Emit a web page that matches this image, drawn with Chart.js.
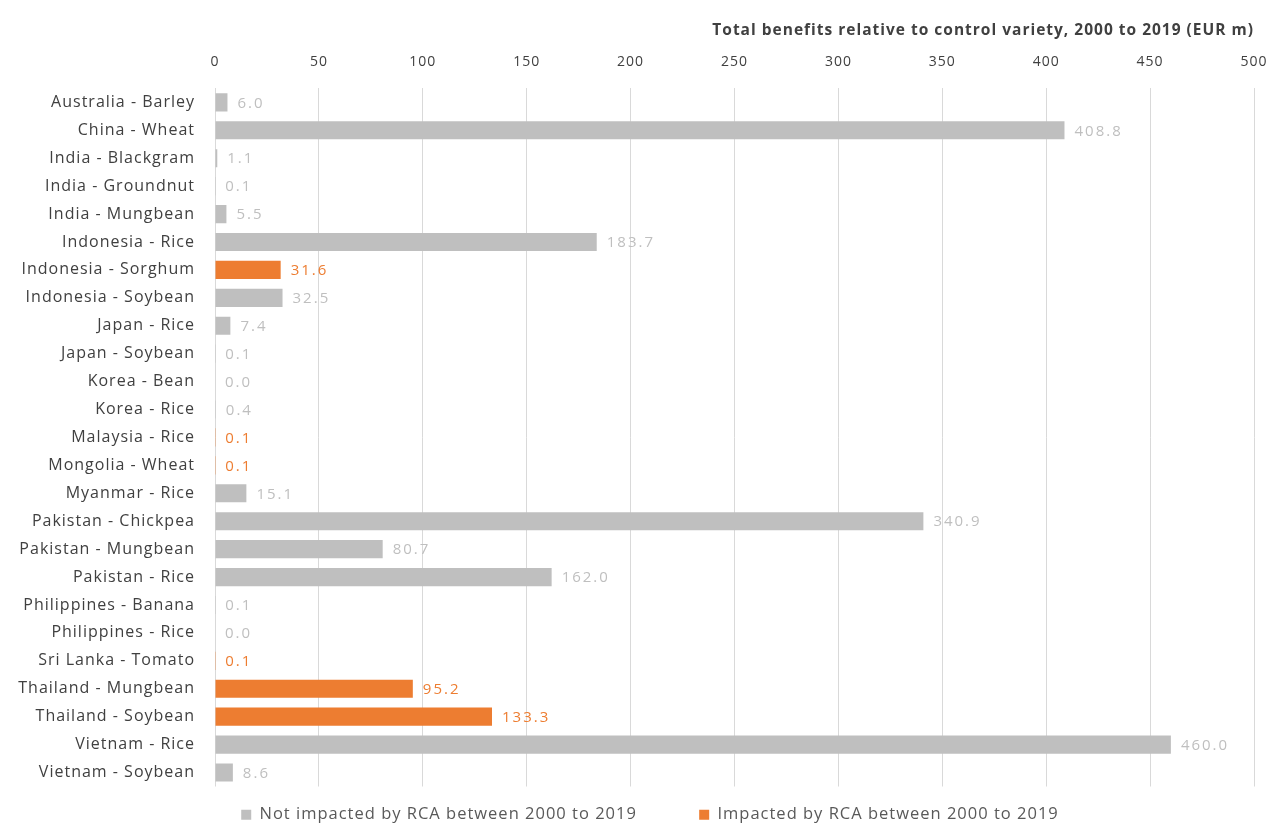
<!DOCTYPE html>
<html>
<head>
<meta charset="utf-8">
<script src="https://cdn.jsdelivr.net/npm/chart.js@4/dist/chart.umd.min.js"></script>
<style>
    body { margin: 0; background: #fff; }
    #wrap { width: 1271px; height: 824px; }
</style>
</head>
<body>
<div id="wrap"><canvas id="benefitsChart"></canvas></div>
<script>
// Categories and values
const categories = [
    'Australia - Barley', 'China - Wheat', 'India - Blackgram', 'India - Groundnut',
    'India - Mungbean', 'Indonesia - Rice', 'Indonesia - Sorghum', 'Indonesia - Soybean',
    'Japan - Rice', 'Japan - Soybean', 'Korea - Bean', 'Korea - Rice',
    'Malaysia - Rice', 'Mongolia - Wheat', 'Myanmar - Rice', 'Pakistan - Chickpea',
    'Pakistan - Mungbean', 'Pakistan - Rice', 'Philippines - Banana', 'Philippines - Rice',
    'Sri Lanka - Tomato', 'Thailand - Mungbean', 'Thailand - Soybean', 'Vietnam - Rice',
    'Vietnam - Soybean'
];

const notImpacted = [
    6.0, 408.8, 1.1, 0.1, 5.5, 183.7, null, 32.5, 7.4, 0.1, 0.0, 0.4,
    null, null, 15.1, 340.9, 80.7, 162.0, 0.1, 0.0, null, null, null, 460.0, 8.6
];

const impacted = [
    null, null, null, null, null, null, 31.6, null, null, null, null, null,
    0.1, 0.1, null, null, null, null, null, null, 0.1, 95.2, 133.3, null, null
];

const xTicks = [0, 50, 100, 150, 200, 250, 300, 350, 400, 450, 500];

const GREY = '#BFBFBF';
const ORANGE = '#ED7D31';
const TEXT = '#404040';
const FONT = "'Open Sans', 'Liberation Sans', sans-serif";

// The original text is set quite loosely, so widen the canvas text a bit
const letterSpacing = {
    id: 'letterSpacing',
    beforeUpdate(chart) { chart.ctx.letterSpacing = '1px'; },
    beforeLayout(chart) { chart.ctx.letterSpacing = '1px'; },
    beforeDraw(chart) { chart.ctx.letterSpacing = '1px'; },
    afterLayout(chart) {
        // legend in the original is centred a bit right of the canvas middle
        if (chart.legend) chart.legend.left += 46;
    }
};

// Draw the value next to the end of each bar
const barValueLabels = {
    id: 'barValueLabels',
    afterDatasetsDraw(chart) {
        const ctx = chart.ctx;
        ctx.save();
        ctx.font = '15px ' + FONT;
        ctx.letterSpacing = '2px';
        ctx.textBaseline = 'middle';
        ctx.textAlign = 'left';
        chart.data.datasets.forEach((ds, i) => {
            const meta = chart.getDatasetMeta(i);
            meta.data.forEach((bar, j) => {
                const v = ds.data[j];
                if (v === null || v === undefined) return;
                ctx.fillStyle = ds.backgroundColor;
                ctx.fillText(v.toFixed(1), bar.x + 10, bar.y + 1);
            });
        });
        ctx.restore();
    }
};

document.addEventListener('DOMContentLoaded', () => {
    const ctx = document.getElementById('benefitsChart').getContext('2d');
    new Chart(ctx, {
        type: 'bar',
        data: {
            labels: categories,
            datasets: [
                {
                    label: 'Not impacted by RCA between 2000 to 2019',
                    data: notImpacted,
                    backgroundColor: GREY,
                    barPercentage: 0.65,
                    categoryPercentage: 1
                },
                {
                    label: 'Impacted by RCA between 2000 to 2019',
                    data: impacted,
                    backgroundColor: ORANGE,
                    barPercentage: 0.65,
                    categoryPercentage: 1
                }
            ]
        },
        options: {
            indexAxis: 'y',
            responsive: true,
            maintainAspectRatio: false,
            animation: false,
            layout: {
                padding: { top: 14, right: 17, left: 0, bottom: -9 }
            },
            plugins: {
                title: {
                    display: true,
                    text: 'Total benefits relative to control variety, 2000 to 2019 (EUR m)',
                    align: 'end',
                    color: TEXT,
                    font: { family: FONT, size: 15.5, weight: 'bold' },
                    padding: { top: 7, bottom: -4 }
                },
                legend: {
                    position: 'bottom',
                    labels: {
                        color: '#595959',
                        font: { family: FONT, size: 16.5 },
                        boxWidth: 10,
                        boxHeight: 10,
                        padding: 20,
                        generateLabels: (chart) => {
                            const items = Chart.defaults.plugins.legend.labels.generateLabels(chart);
                            // extra gap after the first entry, like the original legend
                            items[0].text = items[0].text + '        ';
                            return items;
                        }
                    }
                },
                tooltip: { enabled: false }
            },
            scales: {
                x: {
                    position: 'top',
                    min: 0,
                    max: 500,
                    afterBuildTicks: (scale) => {
                        scale.ticks = xTicks.map(v => ({ value: v }));
                    },
                    afterFit: (scale) => { scale.paddingRight = 0; },
                    ticks: {
                        color: TEXT,
                        font: { family: FONT, size: 14 },
                        padding: 18
                    },
                    grid: {
                        color: '#D9D9D9',
                        drawTicks: false
                    },
                    border: { display: false }
                },
                y: {
                    stacked: true,
                    afterFit: (scale) => { scale.width = 215; },
                    ticks: {
                        color: TEXT,
                        font: { family: FONT, size: 16 },
                        padding: 12,
                        autoSkip: false
                    },
                    grid: { display: false },
                    border: { display: false }
                }
            }
        },
        plugins: [letterSpacing, barValueLabels]
    });
});
</script>
</body>
</html>
